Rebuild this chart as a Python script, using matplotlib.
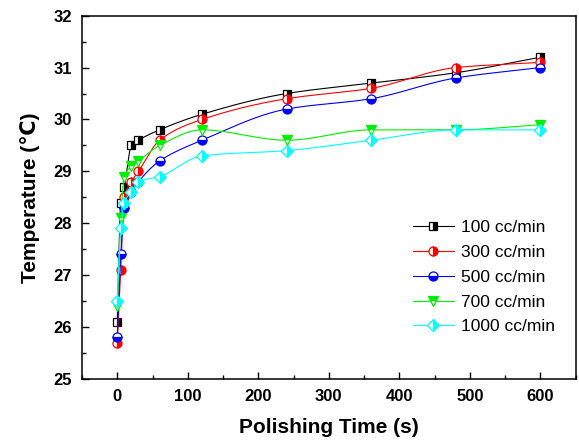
import numpy as np
import matplotlib
matplotlib.use("Agg")
import matplotlib.pyplot as plt
from matplotlib.ticker import MultipleLocator

plt.rcParams['font.family'] = ['Liberation Sans', 'DejaVu Sans']

# polishing time (s) and pad temperature (deg C) for each slurry flow rate
time_s = [0, 5, 10, 20, 30, 60, 120, 240, 360, 480, 600]
temp_100 = [26.1, 28.4, 28.7, 29.5, 29.6, 29.8, 30.1, 30.5, 30.7, 30.9, 31.2]
temp_300 = [25.7, 27.1, 28.5, 28.8, 29.0, 29.6, 30.0, 30.4, 30.6, 31.0, 31.1]
temp_500 = [25.8, 27.4, 28.3, 28.6, 28.8, 29.2, 29.6, 30.2, 30.4, 30.8, 31.0]
temp_700 = [26.4, 28.1, 28.9, 29.1, 29.2, 29.5, 29.8, 29.6, 29.8, 29.8, 29.9]
temp_1000 = [26.5, 27.9, 28.4, 28.6, 28.8, 28.9, 29.3, 29.4, 29.6, 29.8, 29.8]
labels = ['100 cc/min', '300 cc/min', '500 cc/min', '700 cc/min', '1000 cc/min']


def pchip(x, y, xs):
    # monotone cubic curve through the points, used only for the connecting line
    x = np.asarray(x, float)
    y = np.asarray(y, float)
    h = np.diff(x)
    d = np.diff(y) / h
    n = len(x)
    m = np.zeros(n)
    for k in range(1, n - 1):
        if d[k - 1] * d[k] > 0:
            w1 = 2 * h[k] + h[k - 1]
            w2 = h[k] + 2 * h[k - 1]
            m[k] = (w1 + w2) / (w1 / d[k - 1] + w2 / d[k])
    m[0] = d[0]
    m[-1] = d[-1]
    idx = np.clip(np.searchsorted(x, xs) - 1, 0, n - 2)
    t = (xs - x[idx]) / h[idx]
    h00 = 2 * t**3 - 3 * t**2 + 1
    h10 = t**3 - 2 * t**2 + t
    h01 = -2 * t**3 + 3 * t**2
    h11 = t**3 - t**2
    return h00 * y[idx] + h10 * h[idx] * m[idx] + h01 * y[idx + 1] + h11 * h[idx] * m[idx + 1]


series = [temp_100, temp_300, temp_500, temp_700, temp_1000]
colors = ['black', 'red', 'blue', '#00ee00', 'cyan']
markers = ['s', 'o', 'o', 'v', 'D']
fills = ['right', 'right', 'bottom', 'top', 'right']
sizes = [6, 6.5, 6.5, 7, 6]

fig = plt.figure(figsize=(5.79, 4.43), dpi=100)
ax = fig.add_axes([0.1416, 0.1445, 0.8527, 0.8201])

xs = np.linspace(0, 600, 1500)
for temps, c, mk, fs, ms, lab in zip(series, colors, markers, fills, sizes, labels):
    ax.plot(xs, pchip(time_s, temps, xs), color=c, lw=0.8)
    ax.plot(time_s, temps, linestyle='none', marker=mk, color=c, fillstyle=fs,
            markerfacecoloralt='white', markeredgecolor=c, markersize=ms, markeredgewidth=0.9)
    ax.plot([], [], color=c, lw=0.8, marker=mk, fillstyle=fs, markerfacecoloralt='white',
            markeredgecolor=c, markersize=ms, markeredgewidth=0.9, label=lab)

ax.set_xlim(-50, 650)
ax.set_ylim(25, 32)
ax.xaxis.set_major_locator(MultipleLocator(100))
ax.xaxis.set_minor_locator(MultipleLocator(50))
ax.yaxis.set_major_locator(MultipleLocator(1))
ax.yaxis.set_minor_locator(MultipleLocator(0.5))
ax.tick_params(which='both', direction='in', top=False, right=False, width=1.0)
ax.tick_params(which='major', length=5, labelsize=12, pad=7)
ax.tick_params(which='minor', length=3)
for lbl in ax.get_xticklabels() + ax.get_yticklabels():
    lbl.set_fontweight('bold')
for sp in ax.spines.values():
    sp.set_linewidth(1.1)

ax.set_xlabel('Polishing Time (s)', fontsize=15, fontweight='bold', labelpad=10)
ax.set_ylabel('Temperature (\u2103)', fontsize=15, fontweight='bold', labelpad=10)

ax.legend(loc='lower right', bbox_to_anchor=(0.99, 0.08), frameon=False, fontsize=12.5,
          handlelength=2.4, labelspacing=0.55, handletextpad=0.4)

fig.savefig('out.png', dpi=100)
